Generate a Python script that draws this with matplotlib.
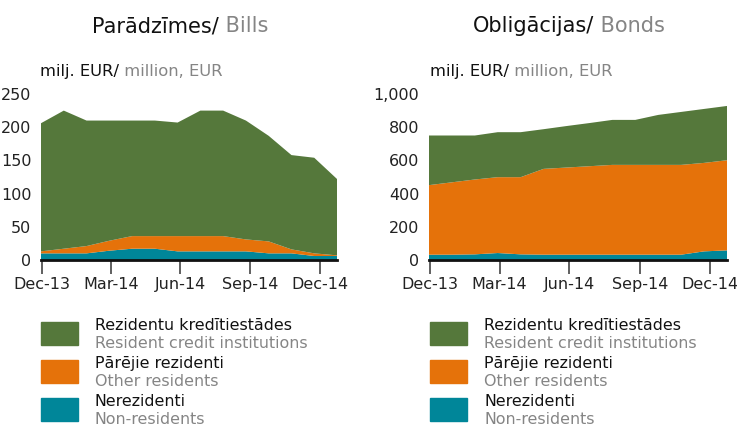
import matplotlib
matplotlib.use('Agg')
import matplotlib.pyplot as plt
from matplotlib.patches import Rectangle
import numpy as np

# months Dec-13 .. Jan-15
months = ['Dec-13', 'Jan-14', 'Feb-14', 'Mar-14', 'Apr-14', 'May-14', 'Jun-14',
          'Jul-14', 'Aug-14', 'Sep-14', 'Oct-14', 'Nov-14', 'Dec-14', 'Jan-15']
tick_labels = ['Dec-13', 'Mar-14', 'Jun-14', 'Sep-14', 'Dec-14']

# Bills (parādzīmes), mln EUR
bills_credit = [193, 208, 189, 181, 174, 174, 171, 189, 189, 179, 159, 142, 144, 115]
bills_other = [3, 7, 11, 15, 19, 19, 23, 23, 23, 18, 18, 6, 4, 1]
bills_nonres = [10, 10, 10, 14, 17, 17, 13, 13, 13, 13, 10, 10, 6, 6]

# Bonds (obligācijas), mln EUR
bonds_credit = [299, 282, 265, 271, 271, 239, 250, 260, 271, 271, 301, 319, 325, 327]
bonds_other = [419, 436, 451, 457, 465, 517, 525, 533, 541, 541, 541, 541, 533, 543]
bonds_nonres = [32, 32, 34, 42, 34, 32, 32, 32, 32, 32, 32, 32, 52, 58]

legend_lv = ['Rezidentu kredītiestādes', 'Pārējie rezidenti', 'Nerezidenti']
legend_en = ['Resident credit institutions', 'Other residents', 'Non-residents']

c_green = '#55783b'
c_orange = '#e5720a'
c_teal = '#008699'
c_gray = '#858585'

W, H = 737, 426
def fx(px):
    return px / W
def fy(py):
    return 1 - py / H

plt.rcParams['font.family'] = ['DejaVu Sans']
fig = plt.figure(figsize=(W / 100, H / 100), dpi=100)

x = np.arange(len(months))
tick_pos = [0.03, 3.08, 6.12, 9.2, 12.25]

def make_axes(left, right, series, ymax, ystep, fmt):
    ax = fig.add_axes([fx(left), fy(260), fx(right - left), (260 - 94) / H])
    ax.stackplot(x, series[2], series[1], series[0],
                 colors=[c_teal, c_orange, c_green], linewidth=0)
    ax.set_xlim(0, len(months) - 1)
    ax.set_ylim(0, ymax)
    yt = np.arange(0, ymax + 1, ystep)
    ax.set_yticks(yt)
    ax.set_yticklabels([fmt.format(v) for v in yt])
    ax.set_xticks(tick_pos)
    ax.set_xticklabels(tick_labels)
    for s in ['top', 'right', 'left']:
        ax.spines[s].set_visible(False)
    ax.spines['bottom'].set_linewidth(2)
    ax.spines['bottom'].set_color('#111111')
    ax.tick_params(axis='y', length=0, pad=7, labelsize=11.5, labelcolor='#222222')
    ax.tick_params(axis='x', length=10, width=1.2, color='#444444', pad=2,
                   labelsize=11.5, labelcolor='#222222')
    ax.set_facecolor('none')
    return ax

ax1 = make_axes(41, 337, [bills_credit, bills_other, bills_nonres], 250, 50, '{:d}')
ax2 = make_axes(429, 727, [bonds_credit, bonds_other, bonds_nonres], 1000, 200, '{:,d}')

def two_tone(px, py, dark, light, size):
    t = fig.text(fx(px), fy(py), dark, fontsize=size, color='#111111',
                 ha='left', va='baseline')
    plt.annotate(light, xy=(1, 0), xycoords=t, fontsize=size, color=c_gray,
                 ha='left', va='bottom', annotation_clip=False)

two_tone(92, 32, 'Parādzīmes/', ' Bills', 15)
two_tone(473, 32, 'Obligācijas/', ' Bonds', 15)
two_tone(40, 76, 'milj. EUR/', ' million, EUR', 11.8)
two_tone(430, 76, 'milj. EUR/', ' million, EUR', 11.8)

colors = [c_green, c_orange, c_teal]
for sq_x, tx in [(41, 95), (430, 484)]:
    for i in range(3):
        top = 322 + i * 38
        fig.patches.append(Rectangle((fx(sq_x), fy(top + 23)), fx(37), 23 / H,
                                     transform=fig.transFigure, color=colors[i]))
        fig.text(fx(tx), fy(top + 8), legend_lv[i], fontsize=11.4, color='#111111',
                 ha='left', va='baseline')
        fig.text(fx(tx), fy(top + 26), legend_en[i], fontsize=11.4, color=c_gray,
                 ha='left', va='baseline')

fig.savefig('out.png', dpi=100)
